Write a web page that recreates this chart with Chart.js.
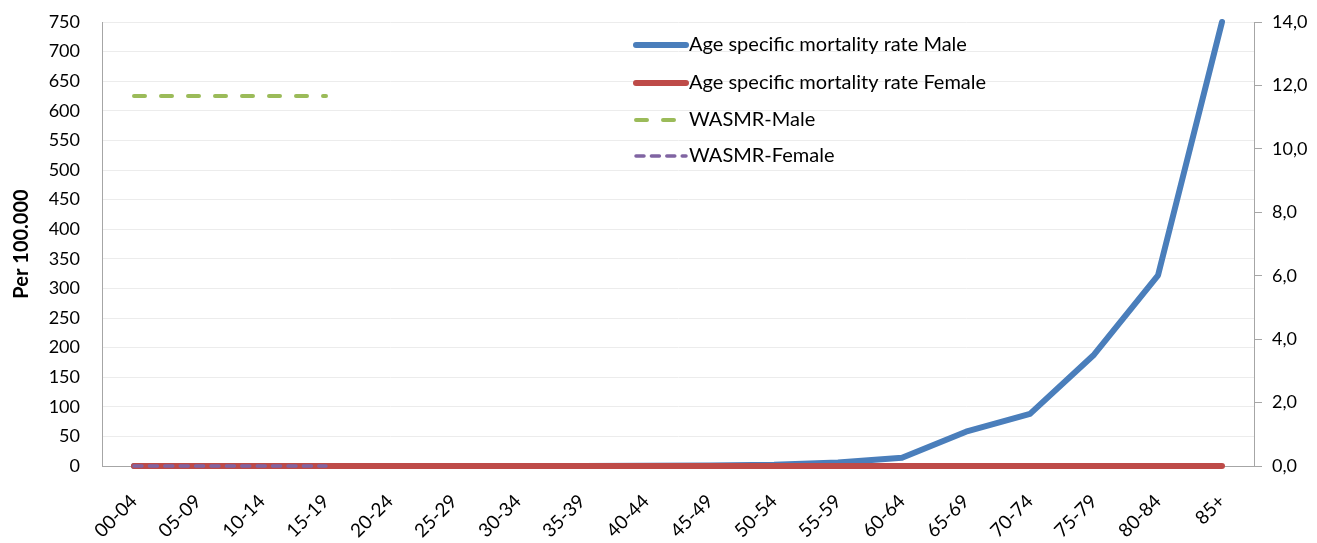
<!DOCTYPE html>
<html>
<head>
<meta charset="utf-8">
<script src="https://cdn.jsdelivr.net/npm/chart.js@4/dist/chart.umd.min.js"></script>
<style>
  body { margin: 0; background: #fff; }
</style>
</head>
<body>
<canvas id="grafico" width="1317" height="543"></canvas>
<script>
// faixas etarias
const faixas = ["00-04", "05-09", "10-14", "15-19", "20-24", "25-29", "30-34", "35-39", "40-44",
  "45-49", "50-54", "55-59", "60-64", "65-69", "70-74", "75-79", "80-84", "85+"];

// valores (por 100.000)
const taxaMasculino = [0, 0, 0, 0, 0, 0, 0, 0, 0.5, 1, 2, 6, 14, 58, 88, 188, 322, 750];
const taxaFeminino = [0, 0, 0, 0, 0, 0, 0, 0, 0, 0, 0, 0, 0, 0, 0, 0, 0, 0];
const wasmrMasculino = [625, 625, 625, 625];
const wasmrFeminino = [0, 0, 0, 0];

const ticksEsquerda = { min: 0, max: 750, passo: 50 };
const ticksDireita = { min: 0, max: 14, passo: 2 };

const fonte = "Lato, 'Open Sans', sans-serif";

// legenda desenhada dentro da area do grafico
const legendaInterna = {
  id: "legendaInterna",
  afterDraw(chart) {
    const ctx = chart.ctx;
    const x0 = 636, x1 = 686;
    const ys = [45, 83, 120, 156];
    chart.data.datasets.forEach((ds, i) => {
      const y = ys[i];
      ctx.save();
      ctx.strokeStyle = ds.borderColor;
      ctx.lineWidth = ds.borderWidth;
      ctx.lineCap = "round";
      ctx.setLineDash(ds.borderDash || []);
      ctx.beginPath();
      ctx.moveTo(x0, y);
      ctx.lineTo(x1, y);
      ctx.stroke();
      ctx.restore();
      ctx.save();
      ctx.fillStyle = "#000";
      ctx.font = "20px " + fonte;
      ctx.textBaseline = "middle";
      ctx.fillText(ds.label, 689, y);
      ctx.restore();
    });
  },
};

// eixos verticais sem folga extra em cima/embaixo
function semFolga(scale, largura) {
  scale.width = largura;
  scale.paddingTop = 0;
  scale.paddingBottom = 0;
}

const config = {
  type: "line",
  data: {
    labels: faixas,
    datasets: [
      {
        label: "Age specific mortality rate Male",
        data: taxaMasculino,
        borderColor: "#4a7ebb",
        borderWidth: 6,
        order: 4,
      },
      {
        label: "Age specific mortality rate Female",
        data: taxaFeminino,
        borderColor: "#be4b48",
        borderWidth: 6,
        order: 3,
      },
      {
        label: "WASMR-Male",
        data: wasmrMasculino,
        borderColor: "#9bbb59",
        borderWidth: 4,
        borderDash: [11, 16],
        order: 2,
      },
      {
        label: "WASMR-Female",
        data: wasmrFeminino,
        borderColor: "#8064a2",
        borderWidth: 3.5,
        borderDash: [8, 7.4],
        order: 1,
      },
    ],
  },
  options: {
    responsive: false,
    animation: false,
    layout: { padding: { top: 22, left: 0, right: 0, bottom: 0 } },
    elements: {
      point: { radius: 0 },
      line: { borderCapStyle: "round", borderJoinStyle: "round", tension: 0 },
    },
    datasets: { line: { clip: false } },
    plugins: {
      legend: { display: false },
      tooltip: { enabled: false },
    },
    scales: {
      x: {
        offset: true,
        grid: { display: false, drawTicks: false },
        border: { color: "#a6a6a6", width: 1 },
        ticks: {
          color: "#000",
          font: { family: fonte, size: 19 },
          maxRotation: 45,
          minRotation: 45,
          padding: 24,
        },
        afterFit(scale) { scale.height = 77; },
      },
      y: {
        position: "left",
        min: ticksEsquerda.min,
        max: ticksEsquerda.max,
        grid: { color: "#ececec", drawTicks: false },
        border: { color: "#a6a6a6", width: 1 },
        ticks: {
          stepSize: ticksEsquerda.passo,
          color: "#000",
          font: { family: fonte, size: 18 },
          padding: 22,
        },
        title: {
          display: true,
          text: "Per 100.000",
          color: "#000",
          font: { family: fonte, size: 20, weight: "bold" },
          padding: { top: 10, bottom: 0 },
        },
        afterFit(scale) { semFolga(scale, 102); },
      },
      y2: {
        position: "right",
        min: ticksDireita.min,
        max: ticksDireita.max,
        grid: { drawOnChartArea: false, color: "#a6a6a6", tickLength: 8 },
        border: { color: "#a6a6a6", width: 1 },
        ticks: {
          stepSize: ticksDireita.passo,
          color: "#000",
          font: { family: fonte, size: 18 },
          padding: 10,
          callback: (v) => v.toFixed(1).replace(".", ","),
        },
        afterFit(scale) { semFolga(scale, 63); },
      },
    },
  },
  plugins: [legendaInterna],
};

new Chart(document.getElementById("grafico"), config);
</script>
</body>
</html>
